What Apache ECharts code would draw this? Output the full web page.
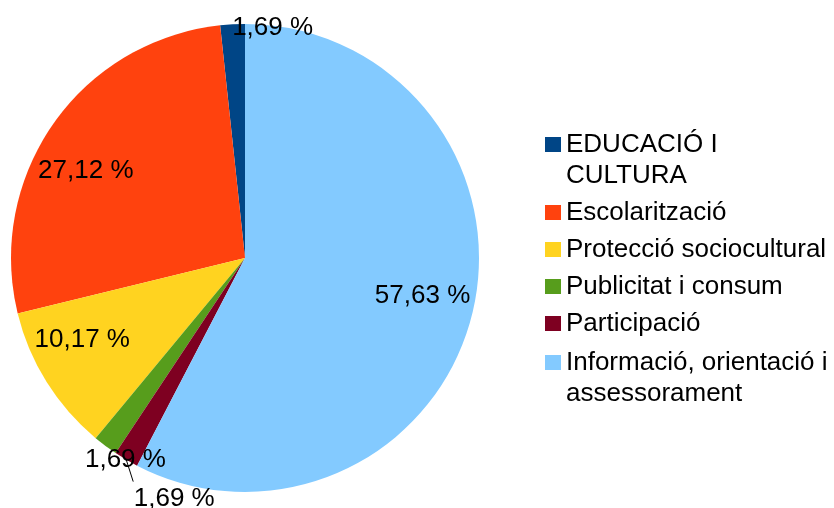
<!DOCTYPE html>
<html><head><meta charset="utf-8">
<script src="https://cdn.jsdelivr.net/npm/echarts@6/dist/echarts.min.js"></script>
<style>html,body{margin:0;padding:0;background:#fff}#c{width:834px;height:508px}</style>
</head><body><div id="c"></div>
<script>
const categories = ['EDUCACIÓ I CULTURA', 'Escolarització', 'Protecció sociocultural', 'Publicitat i consum', 'Participació', 'Informació, orientació i assessorament'];
const values = [1, 16, 6, 1, 1, 34];
const colors = ['#004586', '#ff420e', '#ffd320', '#579d1c', '#7e0021', '#83caff'];
const legendText = ['EDUCACIÓ I\nCULTURA', 'Escolarització', 'Protecció sociocultural', 'Publicitat i consum', 'Participació', 'Informació, orientació i\nassessorament'];

const FONT = 'Liberation Sans';
const FS = 26;
const CX = 245, CY = 258, R = 234;
const total = values.reduce((a, b) => a + b, 0);
// label shifts from the library's default inside position
const labelShift = [[34, -110], [-61, -18], [-61, 18], [-48, 106], null, [61, 9]];
const OUT_IDX = 4;
const outLineEnd = [7, 22], outText = [48, 39];

function edgePoint(i) {
  let cum = 0;
  for (let k = 0; k < i; k++) cum += values[k];
  const mid = (90 + (cum + values[i] / 2) / total * 360) * Math.PI / 180;
  return [CX + R * Math.cos(mid), CY - R * Math.sin(mid)];
}

const chart = echarts.init(document.getElementById('c'), null, {renderer: 'canvas'});
const textStyle = {fontSize: FS, fontFamily: FONT, color: '#000', lineHeight: 31};
const legendFmt = name => {
  const t = legendText[categories.indexOf(name)];
  return t.indexOf('\n') >= 0 ? '\n' + t : t;
};
const legendBase = {
  orient: 'vertical', left: 545, itemWidth: 16, itemHeight: 15, itemGap: 6,
  padding: 0, icon: 'rect', textStyle: textStyle, formatter: legendFmt, selectedMode: false
};
chart.setOption({
  animation: false,
  color: colors,
  legend: [
    Object.assign({}, legendBase, {top: 98, data: categories.slice(0, 5)}),
    Object.assign({}, legendBase, {top: 316, data: categories.slice(5)})
  ],
  series: [{
    type: 'pie',
    center: [CX, CY],
    radius: R,
    startAngle: 90,
    clockwise: false,
    avoidLabelOverlap: false,
    itemStyle: {borderWidth: 0},
    emphasis: {disabled: true},
    label: {
      show: true, position: 'inside', color: '#000', fontSize: FS, fontFamily: FONT,
      textBorderWidth: 0,
      formatter: p => (p.value / total * 100).toFixed(2).replace('.', ',') + ' %'
    },
    labelLine: {show: false},
    labelLayout: function (p) {
      const i = p.dataIndex;
      if (i === OUT_IDX) {
        const e = edgePoint(i);
        const le = [e[0] + outLineEnd[0], e[1] + outLineEnd[1]];
        return {
          x: e[0] + outText[0], y: e[1] + outText[1], align: 'center', verticalAlign: 'middle',
          labelLinePoints: [e, le, le]
        };
      }
      const s = labelShift[i];
      return {dx: s[0], dy: s[1]};
    },
    data: categories.map((name, i) => {
      const d = {name: name, value: values[i]};
      if (i === OUT_IDX) {
        d.label = {position: 'outside'};
        d.labelLine = {show: true, length: 15, length2: 0, lineStyle: {color: '#000', width: 1}};
      }
      return d;
    })
  }]
});
</script></body></html>
